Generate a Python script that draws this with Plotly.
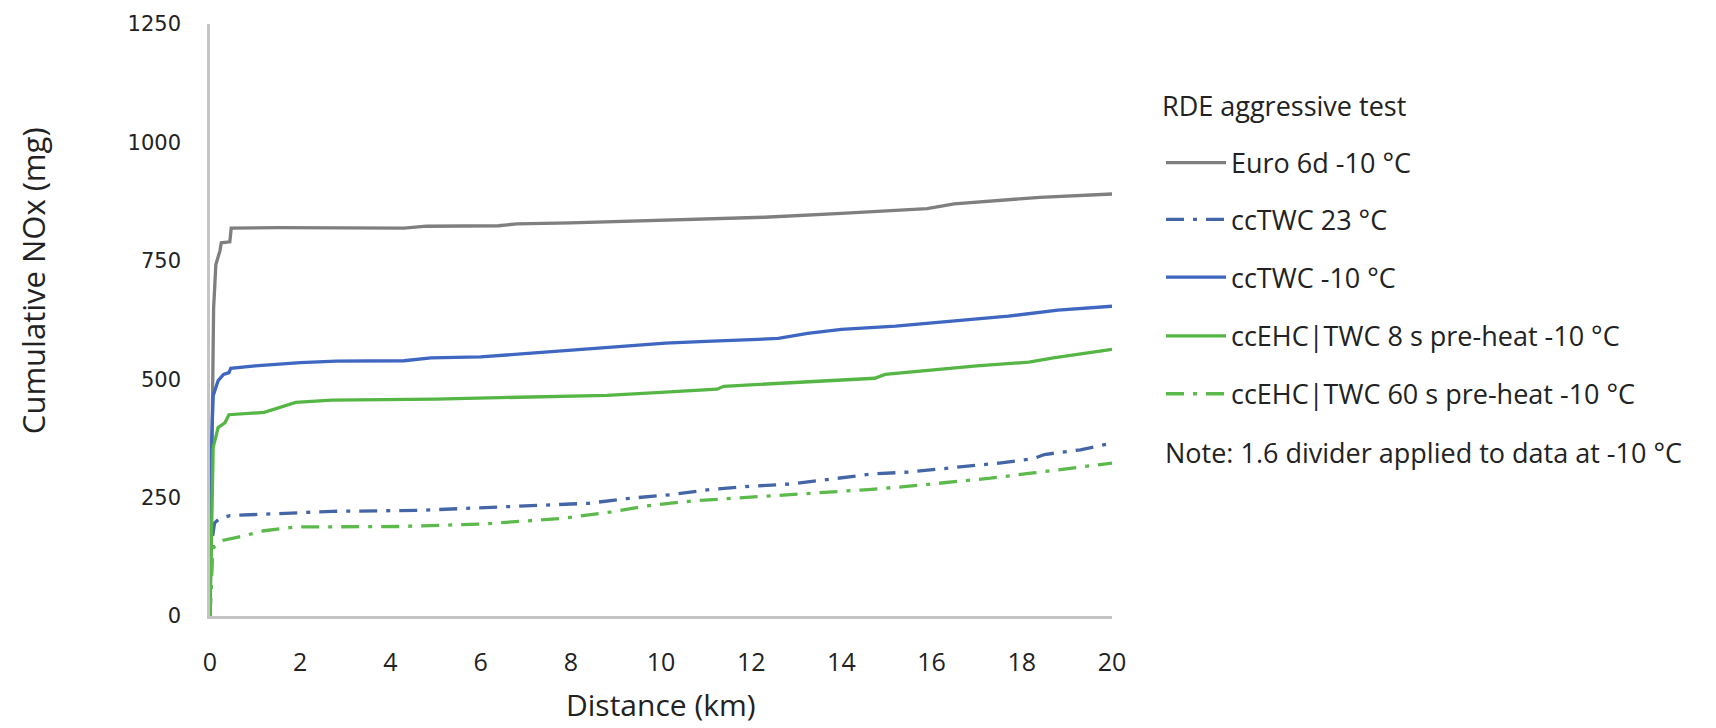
import plotly.graph_objects as go

# ---- data ----
euro_x = [0, 0.03, 0.05, 0.08, 0.13, 0.22, 0.25, 0.44, 0.47, 1.5, 4.3, 4.8, 6.4, 6.8, 8.0, 10.0, 12.3, 14.0, 15.9, 16.5, 18.4, 20.0]
euro_y = [0, 300, 461, 650, 742, 771, 788, 790, 819, 820, 819, 823, 824, 828, 830, 836, 842, 850, 860, 870, 884, 891]

tw23_x = [0, 0.03, 0.06, 0.1, 0.2, 0.44, 1.0, 2.0, 2.7, 4.6, 6.4, 7.76, 8.4, 9.24, 10.2, 11.1, 12.0, 12.9, 13.8, 14.7, 15.5, 16.56, 17.5, 18.25, 18.5, 19.3, 20.0]
tw23_y = [0, 100, 170, 196, 205, 212, 214, 218, 221, 223, 230, 234, 238, 248, 256, 267, 274, 279, 289, 300, 304, 314, 323, 332, 341, 351, 365]

tw10_x = [0, 0.02, 0.04, 0.07, 0.18, 0.3, 0.42, 0.46, 1.0, 2.0, 2.8, 4.3, 4.9, 6.0, 7.2, 8.2, 10.1, 11.0, 12.6, 13.25, 14.0, 15.2, 16.0, 17.7, 18.8, 20.0]
tw10_y = [0, 200, 380, 465, 497, 510, 514, 523, 528, 535, 538, 539, 545, 547, 556, 562, 576, 580, 586, 597, 605, 612, 619, 633, 646, 654]

ehc8_x = [0, 0.03, 0.07, 0.18, 0.33, 0.42, 1.2, 1.9, 2.7, 5.0, 7.2, 8.2, 8.8, 10.0, 11.24, 11.39, 12.25, 14.74, 14.97, 17.0, 18.16, 18.7, 20.0]
ehc8_y = [0, 200, 356, 398, 408, 425, 430, 451, 456, 458, 462, 464, 466, 472, 479, 485, 489, 502, 510, 528, 536, 545, 563]

ehc60_x = [0, 0.02, 0.05, 0.08, 0.3, 0.6, 1.2, 1.9, 4.2, 6.0, 7.2, 7.8, 8.9, 9.8, 10.7, 11.7, 12.6, 13.5, 14.6, 15.5, 17.3, 18.25, 19.1, 20.0]
ehc60_y = [0, 60, 120, 145, 160, 166, 180, 188, 189, 194, 202, 206, 220, 234, 243, 249, 255, 260, 267, 274, 291, 302, 313, 323]

names = ["Euro 6d -10 °C", "ccTWC 23 °C", "ccTWC -10 °C",
         "ccEHC|TWC 8 s pre-heat -10 °C", "ccEHC|TWC 60 s pre-heat -10 °C"]
colors = ["#7f7f7f", "#4466a6", "#3f66c0", "#55b646", "#5cba4c"]
DASHDOT = "18px,9px,4px,9px"
dashes = ["solid", DASHDOT, "solid", "solid", DASHDOT]
xs = [euro_x, tw23_x, tw10_x, ehc8_x, ehc60_x]
ys = [euro_y, tw23_y, tw10_y, ehc8_y, ehc60_y]

legend_title = "RDE aggressive test"
note = "Note: 1.6 divider applied to data at -10 °C"
x_ticks = list(range(0, 21, 2))
y_ticks = [0, 250, 500, 750, 1000, 1250]

TXT = "Open Sans, sans-serif"

fig = go.Figure()
for x, y, n, c, d in zip(xs, ys, names, colors, dashes):
    fig.add_trace(go.Scatter(x=x, y=y, name=n, mode="lines",
                             line=dict(color=c, width=3.3, dash=d),
                             showlegend=False))

L, R, T, B = 210, 604, 22, 112
W, H = 1716, 728
pw, ph = W - L - R, H - T - B

def px(xp):
    return (xp - L) / pw

def py(yp):
    return (H - B - yp) / ph

fig.update_layout(
    width=W, height=H,
    margin=dict(l=L, r=R, t=T, b=B),
    plot_bgcolor="white", paper_bgcolor="white",
    xaxis=dict(range=[0, 20], tickvals=x_ticks, showgrid=False, zeroline=False,
               showline=True, linecolor="#c4c4c4", linewidth=2.5,
               ticks="", ticklabelstandoff=22,
               tickfont=dict(family=TXT, size=25, color="#222")),
    yaxis=dict(range=[0, 1250], tickvals=y_ticks, showgrid=False, zeroline=False,
               showline=True, linecolor="#c4c4c4", linewidth=2.5,
               ticks="", ticklabelstandoff=22,
               tickfont=dict(family="DejaVu Sans", size=21, color="#222")),
)

# axis titles
fig.add_annotation(text="Distance (km)", xref="paper", yref="paper",
                   x=0.5, y=py(705), xanchor="center", yanchor="middle", showarrow=False,
                   font=dict(family=TXT, size=30, color="#222"))
fig.add_annotation(text="Cumulative NOx (mg)", xref="paper", yref="paper",
                   x=px(33), y=py(280), xanchor="center", yanchor="middle",
                   textangle=-90, showarrow=False,
                   font=dict(family=TXT, size=31, color="#222"))

# legend (drawn manually for long line samples)
lf = dict(family=TXT, size=27, color="#222")
fig.add_annotation(text=legend_title, xref="paper", yref="paper",
                   x=px(1160), y=py(104), xanchor="left", yanchor="middle",
                   showarrow=False, font=lf)
item_y = [161, 218, 276, 335, 393]
for n, c, d, yy in zip(names, colors, dashes, item_y):
    fig.add_shape(type="line", xref="paper", yref="paper",
                  x0=px(1166), x1=px(1226), y0=py(yy), y1=py(yy),
                  line=dict(color=c, width=3.3, dash=d))
    fig.add_annotation(text=n, xref="paper", yref="paper",
                       x=px(1229), y=py(yy), xanchor="left", yanchor="middle",
                       showarrow=False, font=lf)
fig.add_annotation(text=note, xref="paper", yref="paper",
                   x=px(1163), y=py(452), xanchor="left", yanchor="middle",
                   showarrow=False, font=lf)

fig.write_html("out.html")
